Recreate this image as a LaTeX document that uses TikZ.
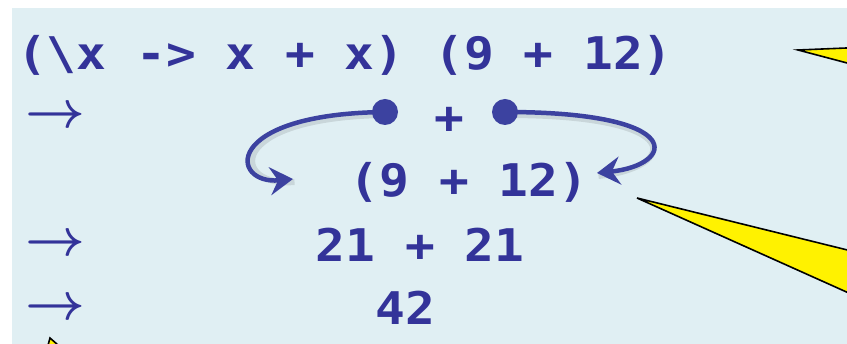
\RequirePackage{fix-cm}
\documentclass[tikz,border=0pt]{standalone}
\usepackage{amsmath}
\usepackage{fontspec}
\setmonofont{DejaVu Sans Mono}[FakeStretch=1.1]
\usetikzlibrary{arrows.meta,positioning}
\definecolor{slidebg}{RGB}{224,239,243}
\definecolor{codeblue}{RGB}{51,51,153}
\definecolor{linkblue}{RGB}{60,66,160}

\begin{document}
\begin{tikzpicture}[x=1pt,y=-1pt,
  code/.style={font=\fontsize{45}{45}\selectfont\ttfamily\bfseries,text=codeblue,inner sep=0pt,anchor=base},
  redmark/.style={font=\fontsize{52}{52}\selectfont,text=codeblue,inner sep=0pt},
  link/.style={draw=linkblue,line width=4.5pt,-{Stealth[length=23pt,width=28pt,inset=8pt]}},
  linkshadow/.style={draw=black,opacity=.10,line width=6pt,transform canvas={shift={(1.5pt,-3pt)}}},
  callout/.style={fill=yellow,draw=black,line width=1.6pt,line join=miter}]
\useasboundingbox (0,0) rectangle (847,344);
\fill[white] (0,0) rectangle (847,344);
\fill[slidebg] (12,8) rectangle (847,344);
% the reduction steps
\node[code] (expr) at (345,70) {(\textbackslash x -> x + x) (9 + 12)};
\node[code,anchor=center] (plus) at (449,120) {+};
\node[code] (arg) at (469,197) {(9 + 12)};
\node[code] (sum) at (420,262) {21 + 21};
\node[code] (result) at (405,325) {42};
\node[redmark] (r1) at (55,117) {$\boldsymbol{\rightarrow}$};
\node[redmark] (r2) at (55,245) {$\boldsymbol{\rightarrow}$};
\node[redmark] (r3) at (55,309) {$\boldsymbol{\rightarrow}$};
% both x point at the same argument
\coordinate (ldot) at (385,112);
\coordinate (rdot) at (505,112);
\coordinate (ltip) at (293,179);
\coordinate (rtip) at (597,173);
\draw[linkshadow] (ldot) .. controls (220,114) and (230,185) .. (ltip);
\draw[linkshadow] (rdot) .. controls (690,112) and (675,165) .. (rtip);
\draw[link] (ldot) .. controls (220,114) and (230,185) .. (ltip);
\draw[link] (rdot) .. controls (690,112) and (675,165) .. (rtip);
\fill[linkblue] (ldot) circle (13pt);
\fill[linkblue] (rdot) circle (13pt);
% callout pointers
\begin{scope}
\clip (0,0) rectangle (847,344);
\coordinate (ctop) at (798,50);
\coordinate (cmid) at (637,198);
\coordinate (cbot) at (50,338);
\draw[callout] (ctop) -- (900,45.8) -- (900,77) -- cycle;
\draw[callout] (cmid) -- (900,263) -- (900,316) -- cycle;
\draw[callout] (cbot) -- (44,360) -- (75,360) -- cycle;
\end{scope}
\end{tikzpicture}
\end{document}
